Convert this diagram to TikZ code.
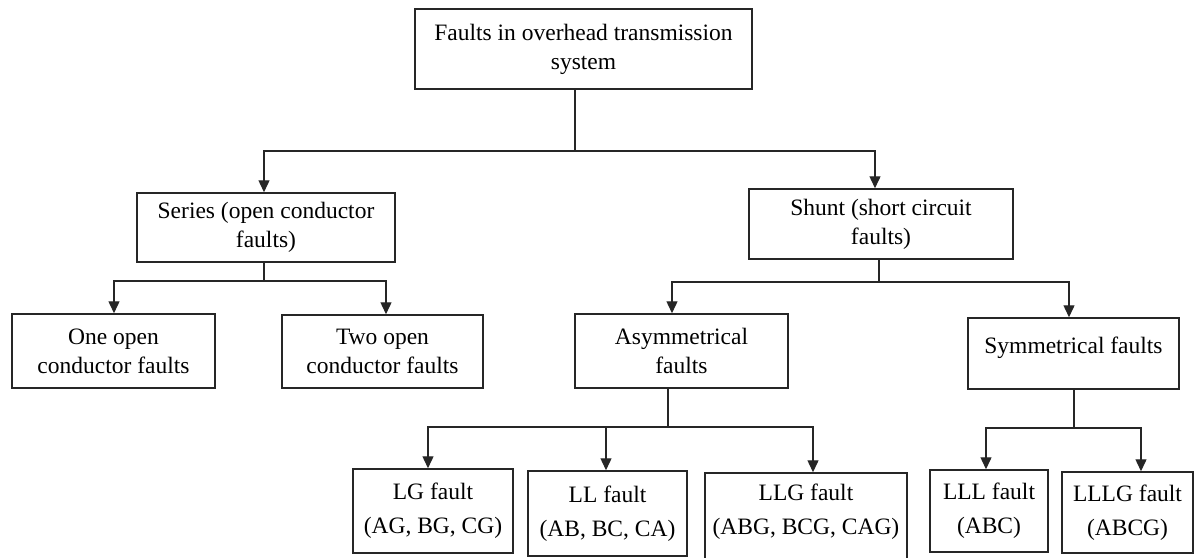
\documentclass[tikz,border=0pt]{standalone}
\usepackage{fontspec}
\setmainfont{Liberation Serif}
\usetikzlibrary{arrows.meta}

\tikzset{
  faultbox/.style={draw=black!85, line width=1.5pt, rectangle, inner sep=0pt,
    align=center, font=\fontsize{23.5}{29}\selectfont, text=black},
  conn/.style={draw=black!85, line width=1.4pt},
  arrowc/.style={conn, -{Triangle[width=11pt,length=12pt]}},
}

\begin{document}
\begin{tikzpicture}[x=1pt, y=-1pt]
  \useasboundingbox (0,0) rectangle (1194,557);
  \clip (0,0) rectangle (1194,557);

  % boxes: centre, then width and height
  \node[faultbox, minimum width=337pt, minimum height=80pt] (top) at (583.5,49)
    {Faults in overhead transmission\\system};
  \node[faultbox, minimum width=258pt, minimum height=69pt] (series) at (266,227.5)
    {Series (open conductor\\faults)};
  \node[faultbox, minimum width=264pt, minimum height=70pt] (shunt) at (881,224)
    {Shunt (short circuit\\faults)};
  \node[faultbox, minimum width=203pt, minimum height=74pt] (one) at (113.5,351)
    {One open\\conductor faults};
  \node[faultbox, minimum width=201pt, minimum height=73pt] (two) at (382.5,351.5)
    {Two open\\conductor faults};
  \node[faultbox, minimum width=213pt, minimum height=74pt] (asym) at (681.5,351)
    {Asymmetrical\\faults};
  \node[faultbox, minimum width=211pt, minimum height=71pt] (sym) at (1073.5,353.5)
    {\raisebox{6pt}[\height][\depth]{Symmetrical faults}};
  \node[faultbox, minimum width=160pt, minimum height=84pt] (lg) at (433,511)
    {LG fault\\[5pt](AG, BG, CG)};
  \node[faultbox, minimum width=159pt, minimum height=85pt] (ll) at (607.5,513.5)
    {LL fault\\[5pt](AB, BC, CA)};
  \node[faultbox, minimum width=202pt, minimum height=89pt] (llg) at (806,517.5)
    {\raisebox{6pt}[\height][\depth]{LLG fault}\\[5pt]\raisebox{6pt}[\height][\depth]{(ABG, BCG, CAG)}};
  \node[faultbox, minimum width=118pt, minimum height=82pt] (lll) at (989,511)
    {LLL fault\\[5pt](ABC)};
  \node[faultbox, minimum width=131pt, minimum height=81pt] (lllg) at (1127.5,512.5)
    {LLLG fault\\[5pt](ABCG)};

  % junction points of the buses
  \coordinate (t1) at (575,151);
  \coordinate (s1) at (264,281);
  \coordinate (h1) at (879,282);
  \coordinate (a1) at (668,427);
  \coordinate (y1) at (1074,428);

  % top level
  \draw[conn] ([xshift=-8.5pt]top.south) -- (t1);
  \draw[arrowc] (t1) -| ([xshift=-2pt]series.north);
  \draw[arrowc] (t1) -| ([xshift=-6pt]shunt.north);

  % series branch
  \draw[conn] ([xshift=-2pt]series.south) -- (s1);
  \draw[arrowc] (s1) -| ([xshift=0.5pt]one.north);
  \draw[arrowc] (s1) -| ([xshift=3.5pt]two.north);

  % shunt branch
  \draw[conn] ([xshift=-2pt]shunt.south) -- (h1);
  \draw[arrowc] (h1) -| ([xshift=-9.5pt]asym.north);
  \draw[arrowc] (h1) -| ([xshift=-4.5pt]sym.north);

  % asymmetrical faults
  \draw[conn] ([xshift=-13.5pt]asym.south) -- (a1);
  \draw[arrowc] (a1) -| ([xshift=-5pt]lg.north);
  \draw[arrowc] (a1) -| ([xshift=-1.5pt]ll.north);
  \draw[arrowc] (a1) -| ([xshift=7pt]llg.north);

  % symmetrical faults
  \draw[conn] ([xshift=0.5pt]sym.south) -- (y1);
  \draw[arrowc] (y1) -| ([xshift=-3pt]lll.north);
  \draw[arrowc] (y1) -| ([xshift=13.5pt]lllg.north);
\end{tikzpicture}
\end{document}
